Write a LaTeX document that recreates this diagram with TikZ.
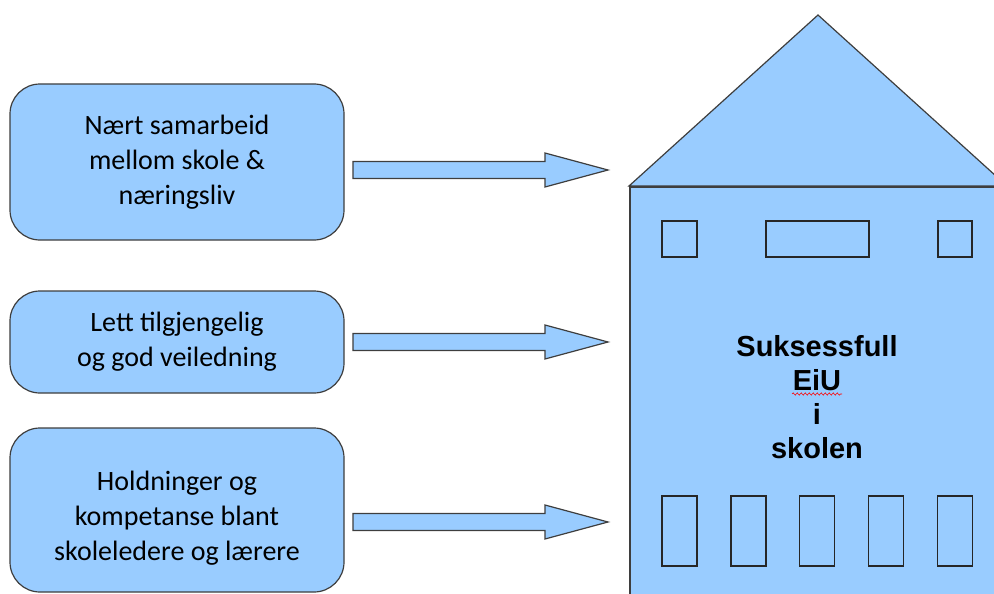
\documentclass[tikz,border=0pt]{standalone}
\usepackage{fontspec}
\setmainfont{Carlito}
\newfontfamily\housefont{Liberation Sans}
\usetikzlibrary{calc}
\usetikzlibrary{decorations.pathmorphing}
\definecolor{skyblue}{RGB}{153,204,255}
\definecolor{edgegray}{RGB}{62,62,62}
\tikzset{
  factbox/.style={draw=edgegray, line width=1.2pt, fill=skyblue, rounded corners=30pt,
    minimum width=334pt, align=center, inner sep=0pt,
    font=\fontsize{28}{35}\selectfont},
  boxtext/.style={align=center, inner sep=0pt, font=\fontsize{28}{35}\selectfont},
  blockarrow/.style={draw=edgegray, line width=1.2pt, fill=skyblue, line join=miter},
  window/.style={draw=black!85, line width=1.6pt, fill=skyblue, inner sep=0pt},
}

\begin{document}
\begin{tikzpicture}[x=1pt,y=-1pt]
            \useasboundingbox (0,0) rectangle (994,594);
            \clip (0,0) rectangle (994,594);
            % the three boxes on the left
            \node[factbox, minimum height=156pt] (samarbeid) at (177,162) {Nært samarbeid\\mellom skole \&\\næringsliv};
            \node[factbox, minimum height=102pt] (veiledning) at (177,342) {Lett tilgjengelig\\og god veiledning};
            \node[factbox, minimum height=164pt] (holdninger) at (177,510) {};
            \node[boxtext] (holdningertekst) at (177,518) {Holdninger og\\kompetanse blant\\skoleledere og lærere};
            % the house
            \filldraw[draw=edgegray, line width=1.2pt, fill=skyblue] (629,186) -- (818,15) -- (1007,186) -- cycle;
            \node[draw=edgegray, line width=1.6pt, fill=skyblue, anchor=north west, minimum width=378pt, minimum height=440pt, inner sep=0pt] (house) at (629,186) {};
            \node[window, minimum width=35pt, minimum height=36pt] (wtl) at (679.5,239) {};
            \node[window, minimum width=103pt, minimum height=36pt] (wtm) at (817.5,239) {};
            \node[window, minimum width=34pt, minimum height=36pt] (wtr) at (955,239) {};
            \foreach \x [count=\i] in {679.5,748.5,817,886,955}
                \node[window, minimum width=35pt, minimum height=70pt] (wb\i) at (\x,531) {};
            \node[align=center, font=\housefont\bfseries\fontsize{29}{34}\selectfont] (title) at (817,397) {Suksessfull\\EiU\\i\\skolen};
            \draw[red, line width=0.6pt, decorate, decoration={snake, amplitude=1.1pt, segment length=4pt}] (792,394) -- (842,394);
            % arrows towards the house
            \coordinate (tail1) at (353,170);
            \coordinate (tip1) at (608,170);
            \coordinate (tail2) at (353,342);
            \coordinate (tip2) at (608,342);
            \coordinate (tail3) at (353,522);
            \coordinate (tip3) at (608,522);
            \foreach \i in {1,2,3}
                \filldraw[blockarrow] let \p1=(tail\i), \p2=(tip\i) in
                    (\x1,\y1+8.5pt) -- (\x2-63pt,\y1+8.5pt) -- (\x2-63pt,\y1+17pt) -- (\p2)
                    -- (\x2-63pt,\y1-17pt) -- (\x2-63pt,\y1-8.5pt) -- (\x1,\y1-8.5pt) -- cycle;
        \end{tikzpicture}
\end{document}
